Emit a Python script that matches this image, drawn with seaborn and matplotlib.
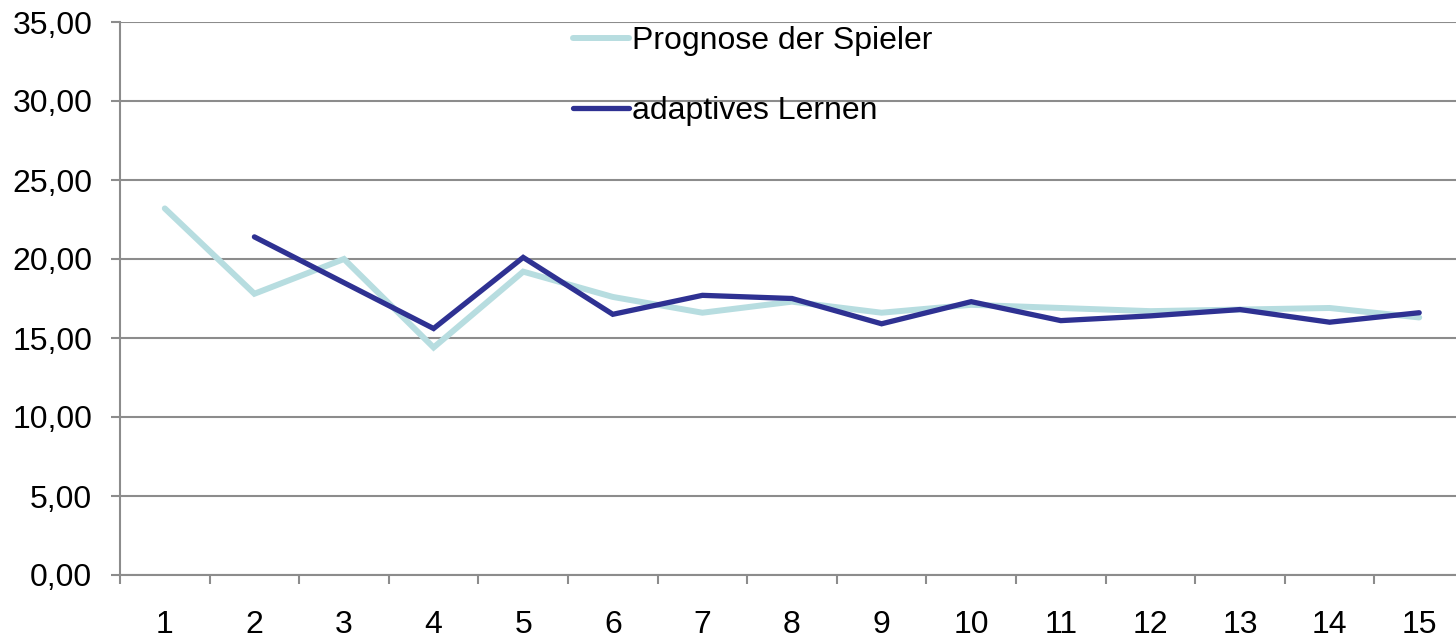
import seaborn as sns
import matplotlib.pyplot as plt
import matplotlib.ticker as mticker
import pandas as pd

# Runden 1..15
runden = list(range(1, 16))
prognose_spieler = [23.2, 17.8, 20.0, 14.4, 19.2, 17.6, 16.6, 17.3, 16.6, 17.1,
                    16.9, 16.7, 16.8, 16.9, 16.3]
# adaptives Lernen startet erst in Runde 2
runden_lernen = list(range(2, 16))
adaptives_lernen = [21.4, 18.5, 15.6, 20.1, 16.5, 17.7, 17.5, 15.9, 17.3,
                    16.1, 16.4, 16.8, 16.0, 16.6]

serien = ["Prognose der Spieler", "adaptives Lernen"]
farben = ["#B7DDE0", "#2E3192"]


def build_frame():
    df1 = pd.DataFrame({"Runde": runden, "Wert": prognose_spieler, "Serie": serien[0]})
    df2 = pd.DataFrame({"Runde": runden_lernen, "Wert": adaptives_lernen, "Serie": serien[1]})
    return pd.concat([df1, df2], ignore_index=True)


def plot_chart(df):
    sns.set_style("white")
    plt.rcParams["font.family"] = ["Liberation Sans", "DejaVu Sans"]
    plt.rcParams["text.color"] = "black"
    plt.rcParams["xtick.labelcolor"] = "black"
    plt.rcParams["ytick.labelcolor"] = "black"

    fig = plt.figure(figsize=(14.56, 6.38), dpi=100)
    ax = fig.add_axes([120 / 1456, 1 - 575 / 638, 1344 / 1456, 553 / 638])

    sns.lineplot(data=df, x="Runde", y="Wert", hue="Serie", hue_order=serien,
                 palette=farben, ax=ax, legend=False, sort=False)
    ax.lines[0].set_linewidth(4.3)
    ax.lines[1].set_linewidth(3.8)
    for ln in ax.lines:
        ln.set_solid_capstyle("round")
        ln.set_solid_joinstyle("miter")

    ax.set_xlim(0.5, 15.5)
    ax.set_ylim(0, 35)
    ax.set_yticks(range(0, 36, 5))
    ax.yaxis.set_major_formatter(mticker.FuncFormatter(lambda v, p: f"{v:.2f}".replace(".", ",")))
    ax.set_xticks(runden)
    ax.set_xticks([r + 0.5 for r in range(0, 15)], minor=True)

    grau = "#8C8C8C"
    ax.grid(axis="y", color=grau, linewidth=1.5)
    ax.set_axisbelow(True)
    for side in ["top", "right"]:
        ax.spines[side].set_visible(False)
    for side in ["left", "bottom"]:
        ax.spines[side].set_color(grau)
        ax.spines[side].set_linewidth(1.5)

    ax.tick_params(axis="y", which="major", direction="out", length=6.5, width=1.5,
                   color=grau, labelsize=23, pad=13.5, left=True)
    ax.tick_params(axis="x", which="major", length=0, labelsize=23, pad=25)
    ax.tick_params(axis="x", which="minor", direction="out", length=6.5, width=1.5,
                   color=grau, bottom=True)
    ax.set_xlabel("")
    ax.set_ylabel("")

    handles = [plt.Line2D([], [], color=farben[0], linewidth=4.3),
               plt.Line2D([], [], color=farben[1], linewidth=3.8)]
    fig.legend(handles, serien, loc="upper left", bbox_to_anchor=(573 / 1456, 1 - 26 / 638),
               frameon=False, fontsize=23, handlelength=1.75, handletextpad=0.1,
               labelspacing=1.25, borderpad=0, borderaxespad=0)

    plt.savefig("out.png", dpi=100)


if __name__ == "__main__":
    plot_chart(build_frame())
